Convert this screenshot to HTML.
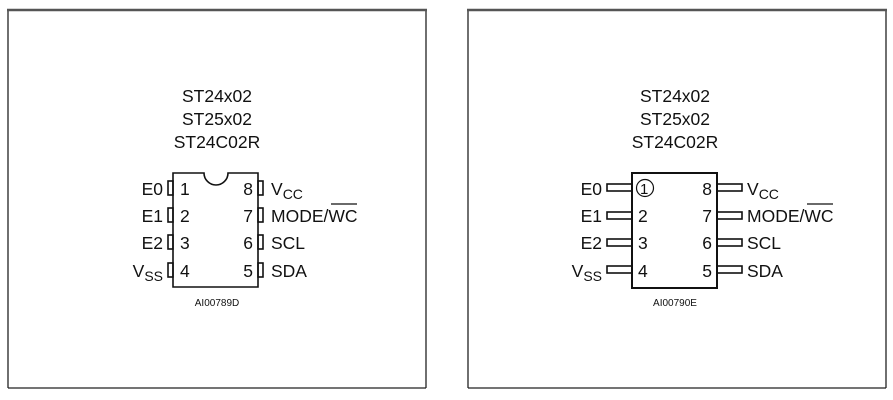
<!DOCTYPE html>
<html><head><style>body{margin:0;background:#fff}svg{display:block}text{font-family:"Liberation Sans",sans-serif;fill:#111}</style></head><body>
<svg width="893" height="400" viewBox="0 0 893 400" xmlns="http://www.w3.org/2000/svg">
<g fill="none" stroke="#222" stroke-width="1.3">
<line x1="8" y1="11" x2="8" y2="388"/><line x1="426" y1="11" x2="426" y2="388"/><line x1="8" y1="388" x2="426" y2="388"/>
<line x1="468" y1="11" x2="468" y2="388"/><line x1="886" y1="11" x2="886" y2="388"/><line x1="468" y1="388" x2="886" y2="388"/>
</g>
<line x1="7" y1="10" x2="427" y2="10" stroke="#555" stroke-width="2.5"/>
<line x1="467" y1="10" x2="887" y2="10" stroke="#555" stroke-width="2.5"/>
<g font-size="17.5" text-anchor="middle">
<text x="217" y="102">ST24x02</text><text x="217" y="125">ST25x02</text><text x="217" y="148">ST24C02R</text>
<text x="675" y="102">ST24x02</text><text x="675" y="125">ST25x02</text><text x="675" y="148">ST24C02R</text>
</g>
<!-- left DIP -->
<g fill="none" stroke="#111" stroke-width="1.6">
<path d="M173 173 H204 A12 12 0 0 0 228 173 H258 V287 H173 Z"/>
<rect x="168" y="181" width="5" height="14"/><rect x="168" y="208" width="5" height="14"/><rect x="168" y="235" width="5" height="14"/><rect x="168" y="263" width="5" height="14"/>
<rect x="258" y="181" width="5" height="14"/><rect x="258" y="208" width="5" height="14"/><rect x="258" y="235" width="5" height="14"/><rect x="258" y="263" width="5" height="14"/>
</g>
<g font-size="17.5">
<g text-anchor="end"><text x="163" y="195">E0</text><text x="163" y="222">E1</text><text x="163" y="249">E2</text><text x="163" y="277">V<tspan font-size="14" dy="4">SS</tspan></text>
<text x="253" y="195">8</text><text x="253" y="222">7</text><text x="253" y="249">6</text><text x="253" y="277">5</text></g>
<text x="180" y="195">1</text><text x="180" y="222">2</text><text x="180" y="249">3</text><text x="180" y="277">4</text>
<text x="271" y="195">V<tspan font-size="14" dy="4">CC</tspan></text>
<text x="271" y="222">MODE/WC</text><text x="271" y="249">SCL</text><text x="271" y="277">SDA</text>
</g>
<line x1="331" y1="204" x2="357" y2="204" stroke="#111" stroke-width="1.3"/>
<text x="217" y="306" font-size="10" text-anchor="middle">AI00789D</text>
<!-- right SO -->
<g fill="none" stroke="#111" stroke-width="1.6">
<rect x="632" y="173" width="85" height="115" stroke-width="2"/>
<rect x="607" y="184" width="25" height="7"/><rect x="607" y="212" width="25" height="7"/><rect x="607" y="239" width="25" height="7"/><rect x="607" y="266" width="25" height="7"/>
<rect x="717" y="184" width="25" height="7"/><rect x="717" y="212" width="25" height="7"/><rect x="717" y="239" width="25" height="7"/><rect x="717" y="266" width="25" height="7"/>
<circle cx="645" cy="188" r="8.5" stroke-width="1.2"/>
</g>
<g font-size="17.5">
<g text-anchor="end"><text x="602" y="195">E0</text><text x="602" y="222">E1</text><text x="602" y="249">E2</text><text x="602" y="277">V<tspan font-size="14" dy="4">SS</tspan></text>
<text x="712" y="195">8</text><text x="712" y="222">7</text><text x="712" y="249">6</text><text x="712" y="277">5</text></g>
<text x="640" y="194" font-size="15">1</text><text x="638" y="222">2</text><text x="638" y="249">3</text><text x="638" y="277">4</text>
<text x="747" y="195">V<tspan font-size="14" dy="4">CC</tspan></text>
<text x="747" y="222">MODE/WC</text><text x="747" y="249">SCL</text><text x="747" y="277">SDA</text>
</g>
<line x1="807" y1="204" x2="833" y2="204" stroke="#111" stroke-width="1.3"/>
<text x="675" y="306" font-size="10" text-anchor="middle">AI00790E</text>
</svg>
</body></html>
